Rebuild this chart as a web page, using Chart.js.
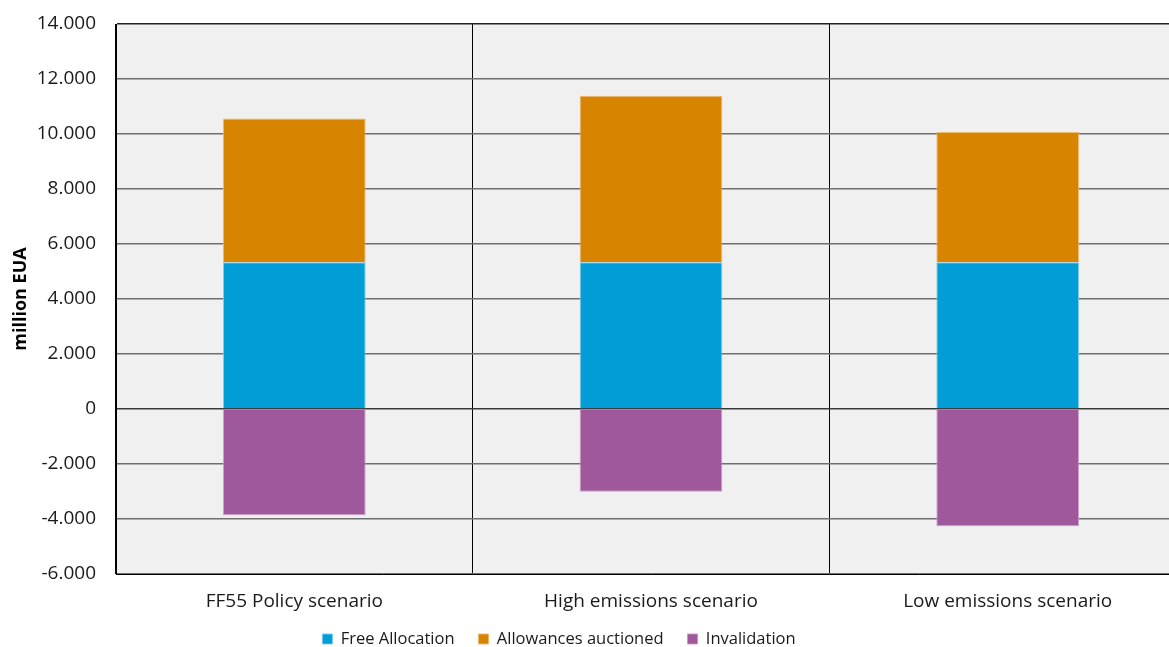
<!DOCTYPE html>
<html>
<head>
<meta charset="utf-8">
<script src="https://cdn.jsdelivr.net/npm/chart.js@4.4.1/dist/chart.umd.min.js"></script>
<style>
  html, body { margin: 0; padding: 0; background: #ffffff; overflow: hidden; }
  #wrap { width: 1186px; height: 647px; position: relative; }
</style>
</head>
<body>
<div id="wrap"><canvas id="chart"></canvas></div>
<script>
// Scenario categories and stacked components (million EUA)
const scenarios = ['FF55 Policy scenario', 'High emissions scenario', 'Low emissions scenario'];
const freeAllocation = [5340, 5340, 5340];
const allowancesAuctioned = [5220, 6050, 4730];
const invalidation = [-3860, -3010, -4260];

// Value axis range and step
const yMin = -6000;
const yMax = 14000;
const yStep = 2000;

const FONT = "'Open Sans', 'DejaVu Sans', sans-serif";
const LEGEND_PAD = 24;
const LEGEND_FONT = 16.5;

// Thousands separator as a dot, e.g. 14.000
function formatThousands(v) {
  const s = Math.abs(v).toString().replace(/\B(?=(\d{3})+(?!\d))/g, '.');
  return (v < 0 ? '-' : '') + s;
}

// Light grey plot background behind the bars
const plotBackground = {
  id: 'plotBackground',
  beforeDraw(chart) {
    const { ctx, chartArea: a } = chart;
    ctx.save();
    ctx.fillStyle = '#f0f0f0';
    ctx.fillRect(a.left, a.top, a.right - a.left, a.bottom - a.top);
    ctx.restore();
  }
};

// Place the legend block on its own centre line under the axis labels
const legendPlacement = {
  id: 'legendPlacement',
  afterLayout(chart) {
    const lg = chart.legend;
    if (!lg) return;
    const w = lg.right - lg.left;
    const h = lg.bottom - lg.top;
    const centreX = 559;
    lg.left = centreX - w / 2;
    lg.right = centreX + w / 2;
    lg.top = 639 - LEGEND_PAD - LEGEND_FONT / 2;
    lg.bottom = lg.top + h;
  }
};

new Chart(document.getElementById('chart'), {
  type: 'bar',
  data: {
    labels: scenarios,
    datasets: [
      { label: 'Free Allocation', data: freeAllocation, backgroundColor: '#009dd6', borderColor: 'rgba(120,200,235,0.9)', borderWidth: 1 },
      { label: 'Allowances auctioned', data: allowancesAuctioned, backgroundColor: '#d78500', borderColor: 'rgba(235,180,100,0.9)', borderWidth: 1 },
      { label: 'Invalidation', data: invalidation, backgroundColor: '#9e589b', borderColor: 'rgba(200,150,200,0.9)', borderWidth: 1 }
    ]
  },
  options: {
    responsive: true,
    maintainAspectRatio: false,
    animation: false,
    datasets: { bar: { barPercentage: 0.4, categoryPercentage: 1.0 } },
    layout: { padding: { top: 24, right: 0, bottom: -17.5, left: 0 } },
    scales: {
      x: {
        stacked: true,
        grid: { offset: true, color: '#000000', lineWidth: 1, drawTicks: false },
        border: { display: true, color: '#000000', width: 1 },
        ticks: { color: '#1a1a1a', font: { family: FONT, size: 19 }, padding: 16, maxRotation: 0, autoSkip: false },
        afterFit(scale) { scale.height = 40; }
      },
      y: {
        stacked: true,
        min: yMin,
        max: yMax,
        ticks: { stepSize: yStep, color: '#1a1a1a', font: { family: FONT, size: 19 }, padding: 20, callback: (v) => formatThousands(v) },
        grid: {
          drawTicks: false,
          lineWidth: (c) => (c.tick && c.tick.value === 0 ? 1.6 : 1.4),
          color: (c) => {
            if (!c.tick) return '#6f6f6f';
            if (c.tick.value === 0) return '#3a3a3a';
            if (c.tick.value === yMax) return '#222222';
            return '#6f6f6f';
          }
        },
        border: { display: true, color: '#000000', width: 1 },
        title: { display: true, text: 'million EUA', color: '#000000', font: { family: FONT, size: 18, weight: 'bold' }, padding: { top: 10, bottom: 0 } },
        afterFit(scale) {
          scale.width = 116;
          scale.paddingTop = 0;
          scale.paddingBottom = 0;
        }
      }
    },
    plugins: {
      legend: {
        position: 'bottom',
        labels: { boxWidth: 10, boxHeight: 10, padding: LEGEND_PAD, color: '#1a1a1a', font: { family: FONT, size: LEGEND_FONT } }
      },
      tooltip: { enabled: false }
    }
  },
  plugins: [plotBackground, legendPlacement]
});
</script>
</body>
</html>
